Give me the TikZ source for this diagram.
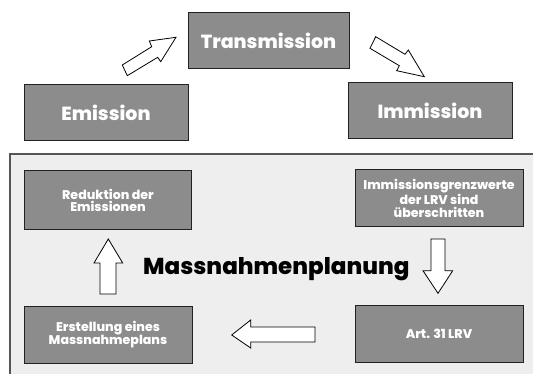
\documentclass[tikz,border=0pt]{standalone}
\usepackage{fontspec}
\setmainfont{Poppins}[BoldFont={* ExtraBold}]
\definecolor{boxgray}{HTML}{8C8C8C}
\definecolor{panelfill}{HTML}{EEEEEE}
\definecolor{panelline}{HTML}{555555}
\definecolor{boxline}{HTML}{222222}
\begin{document}
\begin{tikzpicture}[x=1pt,y=-1pt,
  bigbox/.style={draw=boxline,line width=1pt,fill=boxgray,text=white,
    font=\fontsize{19}{21}\selectfont\bfseries,inner sep=0pt},
  smallbox/.style={draw=boxline,line width=1pt,fill=boxgray,text=white,align=center,
    font=\fontsize{12.6}{12.5}\selectfont\bfseries,inner sep=0pt},
  blockarrow/.style={draw=black,line width=0.8pt,fill=white,line join=miter},
  panel/.style={draw=panelline,line width=1.6pt,fill=panelfill}]
\useasboundingbox (0,0) rectangle (533,374);
\clip (0,0) rectangle (533,374);
\fill[white] (0,0) rectangle (533,374);
% top cycle
\node[bigbox,minimum width=161pt,minimum height=56pt] (trans) at (268.5,41) {Transmission};
\node[bigbox,minimum width=164pt,minimum height=56pt] (emis) at (106,112.5) {Emission};
\node[bigbox,minimum width=164pt,minimum height=56pt] (immis) at (430,111) {Immission};
\draw[blockarrow] (122.3,65) -- (151.7,46.7) -- (149.3,41) -- (176,37.3) -- (160.7,61.7) -- (157.7,57.3) -- (127.3,75.7) -- cycle;
\draw[blockarrow] (375.7,36.7) -- (405,54.3) -- (408.3,50) -- (424.3,76.7) -- (396.7,70.7) -- (399.3,65.7) -- (370,48.3) -- cycle;
% panel
\draw[panel] (10,154) rectangle (560,400);
\node[smallbox,minimum width=167pt,minimum height=59pt] (redu) at (108,200.5) {Reduktion der\\Emissionen};
\node[smallbox,minimum width=168pt,minimum height=57pt] (grenz) at (439,198.5) {Immissionsgrenzwerte\\der LRV sind\\überschritten};
\node[smallbox,minimum width=168pt,minimum height=57pt] (erst) at (108,334.5) {Erstellung eines\\Massnahmeplans};
\node[smallbox,minimum width=168pt,minimum height=57pt] (art) at (439,334) {Art. 31 LRV};
\node[font=\fontsize{23}{25}\selectfont\bfseries,text=black,inner sep=0pt,anchor=base west] (title) at (143,275) {Massnahmenplanung};
\draw[blockarrow] (100,294) -- (100,263) -- (94,263) -- (108.3,239) -- (122.7,263) -- (116,263) -- (116,294) -- cycle;
\draw[blockarrow] (431,239) -- (445,239) -- (445,270.7) -- (452.7,270.7) -- (438,293.3) -- (423,270.7) -- (431,270.7) -- cycle;
\draw[blockarrow] (315,327) -- (250.7,327) -- (250.7,320) -- (231.7,335) -- (250.7,348) -- (250.7,342) -- (315,342) -- cycle;
\end{tikzpicture}
\end{document}
